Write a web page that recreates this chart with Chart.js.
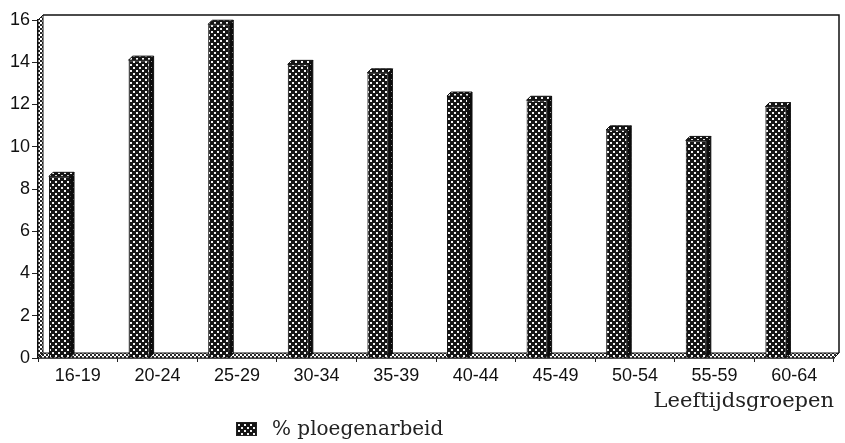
<!DOCTYPE html>
<html>
<head>
<meta charset="utf-8">
<script src="https://cdn.jsdelivr.net/npm/chart.js@4.4.1/dist/chart.umd.min.js"></script>
<style>
  html, body { margin: 0; padding: 0; background: #fff; }
  #wrap { width: 845px; height: 443px; }
</style>
</head>
<body>
<div id="wrap"><canvas id="c" width="845" height="443"></canvas></div>
<script>
// Age groups and the share of shift work per group (%)
const categories = ['16-19', '20-24', '25-29', '30-34', '35-39', '40-44', '45-49', '50-54', '55-59', '60-64'];
const shiftWork = [8.6, 14.1, 15.8, 13.9, 13.5, 12.4, 12.2, 10.8, 10.3, 11.9];
// empty companion series that keeps each bar in the left part of its group
const spacer = [null, null, null, null, null, null, null, null, null, null];
const yTicks = [0, 2, 4, 6, 8, 10, 12, 14, 16];
const seriesLabel = '% ploegenarbeid';
const axisTitle = 'Leeftijdsgroepen';

const DEPTH_BAR = 4;
const DEPTH_WALL = 5;

function makePattern(size, bg, fg, cells) {
  const t = document.createElement('canvas');
  t.width = size; t.height = size;
  const g = t.getContext('2d');
  g.fillStyle = bg; g.fillRect(0, 0, size, size);
  g.fillStyle = fg;
  cells.forEach(([x, y, w, h]) => g.fillRect(x, y, w, h));
  return g.createPattern(t, 'repeat');
}

const ctx = document.getElementById('c').getContext('2d');
const barFill = makePattern(6, '#151515', '#f4f4f4', [[1, 1, 2, 2], [4, 4, 2, 2]]);
const sideFill = makePattern(6, '#0c0c0c', '#9a9a9a', [[1, 1, 1, 1], [4, 4, 1, 1]]);
const wallFill = makePattern(4, '#ffffff', '#2a2a2a', [[0, 0, 2, 2], [2, 2, 2, 2]]);

const sansFont = "'Liberation Sans', Arial, sans-serif";
const serifFont = "'DejaVu Serif', serif";

const frame3d = {
  id: 'frame3d',
  beforeDatasetsDraw(chart) {
    const { ctx, chartArea: a } = chart;
    const d = DEPTH_WALL;
    ctx.save();
    ctx.lineWidth = 1;
    ctx.strokeStyle = '#111';
    // left side wall
    ctx.beginPath();
    ctx.moveTo(a.left, a.bottom);
    ctx.lineTo(a.left, a.top);
    ctx.lineTo(a.left + d, a.top - d);
    ctx.lineTo(a.left + d, a.bottom - d);
    ctx.closePath();
    ctx.fillStyle = wallFill;
    ctx.fill();
    ctx.stroke();
    // floor
    ctx.beginPath();
    ctx.moveTo(a.left, a.bottom);
    ctx.lineTo(a.left + d, a.bottom - d);
    ctx.lineTo(a.right + d, a.bottom - d);
    ctx.lineTo(a.right, a.bottom);
    ctx.closePath();
    ctx.fillStyle = wallFill;
    ctx.fill();
    ctx.stroke();
    // back wall outline: top edge and right edge
    ctx.lineWidth = 1.5;
    ctx.beginPath();
    ctx.moveTo(a.left + d, a.top - d);
    ctx.lineTo(a.right + d, a.top - d);
    ctx.lineTo(a.right + d, a.bottom - d);
    ctx.stroke();
    ctx.restore();
  },
  afterDatasetsDraw(chart) {
    const { ctx } = chart;
    const meta = chart.getDatasetMeta(0);
    const d = DEPTH_BAR;
    ctx.save();
    ctx.lineWidth = 1;
    ctx.strokeStyle = '#111';
    meta.data.forEach(el => {
      const p = el.getProps(['x', 'y', 'base', 'width'], true);
      const L = p.x - p.width / 2, R = p.x + p.width / 2;
      const top = p.y, base = p.base;
      // right side face
      ctx.beginPath();
      ctx.moveTo(R, base);
      ctx.lineTo(R, top);
      ctx.lineTo(R + d, top - d);
      ctx.lineTo(R + d, base - d);
      ctx.closePath();
      ctx.fillStyle = sideFill;
      ctx.fill();
      ctx.stroke();
      // top face
      ctx.beginPath();
      ctx.moveTo(L, top);
      ctx.lineTo(L + d, top - d);
      ctx.lineTo(R + d, top - d);
      ctx.lineTo(R, top);
      ctx.closePath();
      ctx.fillStyle = barFill;
      ctx.fill();
      ctx.stroke();
    });
    ctx.restore();
  },
  afterDraw(chart) {
    // legend entry under the axis
    const { ctx } = chart;
    const ds = chart.data.datasets[0];
    ctx.save();
    const bx = 236, by = 422, bw = 21, bh = 14;
    ctx.fillStyle = ds.backgroundColor;
    ctx.fillRect(bx, by, bw, bh);
    ctx.strokeStyle = '#222';
    ctx.lineWidth = 1;
    ctx.strokeRect(bx + 0.5, by + 0.5, bw - 1, bh - 1);
    ctx.fillStyle = '#222';
    ctx.font = '20px ' + serifFont;
    ctx.textBaseline = 'middle';
    ctx.textAlign = 'left';
    ctx.fillText(ds.label, 272, by + bh / 2 + 1);
    ctx.restore();
  }
};

new Chart(ctx, {
  type: 'bar',
  data: {
    labels: categories,
    datasets: [
      {
        label: seriesLabel,
        data: shiftWork,
        backgroundColor: barFill,
        borderColor: '#111',
        borderWidth: 1,
        categoryPercentage: 0.92,
        barPercentage: 0.575
      },
      {
        label: '',
        data: spacer,
        backgroundColor: 'rgba(0,0,0,0)',
        categoryPercentage: 0.92,
        barPercentage: 0.575
      }
    ]
  },
  options: {
    responsive: false,
    animation: false,
    devicePixelRatio: 1,
    layout: { padding: { top: 20, right: 11, bottom: 29, left: 0 } },
    plugins: {
      legend: { display: false },
      tooltip: { enabled: false }
    },
    scales: {
      x: {
        offset: true,
        grid: {
          display: true,
          offset: true,
          drawOnChartArea: false,
          drawTicks: true,
          tickLength: 4,
          color: '#222',
          lineWidth: 1
        },
        border: { display: true, color: '#111', width: 1.5 },
        ticks: {
          color: '#111',
          font: { family: sansFont, size: 18 },
          padding: 3,
          maxRotation: 0,
          autoSkip: false
        },
        title: {
          display: true,
          text: axisTitle,
          align: 'end',
          color: '#222',
          font: { family: serifFont, size: 21 },
          padding: { top: 0, bottom: 0 }
        },
        afterFit(s) { s.height = 56; }
      },
      y: {
        min: 0,
        max: 16,
        afterBuildTicks(s) { s.ticks = yTicks.map(v => ({ value: v })); },
        grid: {
          display: true,
          drawOnChartArea: false,
          drawTicks: true,
          tickLength: 6,
          color: '#222'
        },
        border: { display: true, color: '#111', width: 1.5 },
        ticks: {
          color: '#111',
          font: { family: sansFont, size: 18 },
          padding: 2
        },
        afterFit(s) { s.width = 38; }
      }
    }
  },
  plugins: [frame3d]
});
</script>
</body>
</html>
